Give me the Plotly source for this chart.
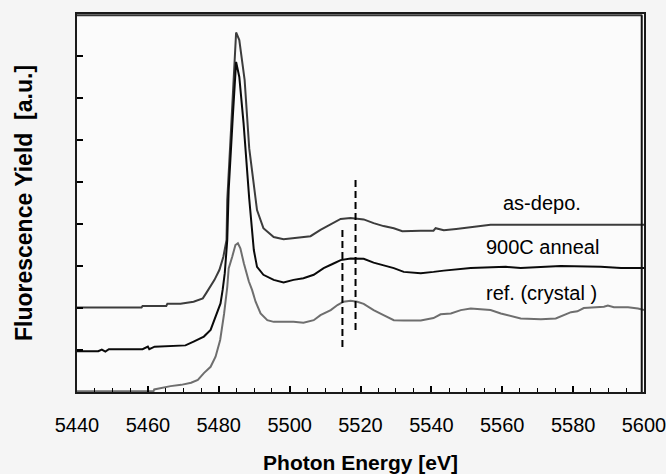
import plotly.graph_objects as go

# ---- data (photon energy in eV, fluorescence yield in a.u., offset curves) ----
asdepo_x = [5440, 5458.2, 5458.5, 5465.2, 5465.5, 5469.2, 5472.9, 5475.5, 5476.5, 5477.7,
            5478.8, 5480.2, 5481.3, 5482.2, 5482.4, 5483.5, 5484.5, 5484.9, 5485.8, 5487.3,
            5488.6, 5489.9, 5490.8, 5492.6, 5495.5, 5498.3, 5501.1, 5505.9, 5508.7, 5511.6,
            5514.4, 5517.2, 5520.9, 5523.7, 5526.5, 5529.4, 5531.8, 5537.0, 5540.6, 5541.2,
            5543.5, 5547.0, 5551.1, 5556.7, 5600]
asdepo_y = [2.01, 2.01, 2.05, 2.05, 2.10, 2.10, 2.15, 2.23, 2.36, 2.51,
            2.67, 2.91, 3.22, 3.62, 4.57, 6.30, 7.90, 8.56, 8.38, 7.43,
            5.80, 5.00, 4.33, 3.90, 3.69, 3.64, 3.67, 3.71, 3.86, 4.00,
            4.12, 4.14, 4.11, 4.02, 3.95, 3.90, 3.83, 3.84, 3.84, 3.90,
            3.85, 3.88, 3.92, 3.98, 3.98]

anneal_x = [5440, 5446.0, 5447.0, 5448.0, 5449.0, 5458.5, 5460.0, 5460.4, 5461.9, 5470.6,
            5472.9, 5475.8, 5477.7, 5478.8, 5479.5, 5480.5, 5481.1, 5481.7, 5482.4, 5482.8,
            5484.0, 5484.9, 5485.8, 5487.0, 5488.6, 5489.4, 5489.9, 5490.8, 5492.6, 5495.5,
            5498.3, 5501.1, 5503.9, 5506.8, 5509.6, 5512.4, 5514.4, 5517.2, 5520.9, 5523.7,
            5526.5, 5529.4, 5532.2, 5537.0, 5540.6, 5543.5, 5551.1, 5556.7, 5561.0, 5565.2,
            5569.5, 5576.5, 5587.8, 5593.5, 5600]
anneal_y = [0.97, 0.97, 1.01, 0.96, 1.02, 1.02, 1.08, 1.02, 1.08, 1.11,
            1.20, 1.32, 1.48, 1.71, 1.87, 2.11, 2.43, 2.83, 3.62, 4.81,
            6.60, 7.86, 7.50, 6.40, 4.60, 3.79, 3.38, 2.98, 2.79, 2.67,
            2.61, 2.67, 2.71, 2.79, 2.95, 3.06, 3.14, 3.18, 3.17, 3.08,
            3.02, 2.95, 2.86, 2.83, 2.86, 2.89, 2.95, 2.96, 2.98, 2.95,
            2.97, 3.00, 2.98, 2.95, 2.95]

ref_x = [5440, 5461.6, 5461.8, 5466.4, 5469.4, 5472.2, 5474.1, 5475.8, 5477.7, 5479.1,
         5480.4, 5481.5, 5482.4, 5482.8, 5483.8, 5484.7, 5485.4, 5486.1, 5487.1, 5488.5,
         5489.4, 5490.4, 5491.8, 5493.7, 5495.5, 5498.3, 5501.1, 5503.9, 5506.8, 5508.7,
         5511.6, 5513.5, 5515.2, 5517.2, 5519.1, 5520.9, 5523.7, 5526.5, 5529.4, 5532.2,
         5537.0, 5540.6, 5542.6, 5545.5, 5548.3, 5551.1, 5556.7, 5559.6, 5565.2, 5570.9,
         5575.1, 5579.4, 5581.2, 5583.0, 5586.4, 5588.7, 5589.8, 5591.5, 5595.5, 5598.3, 5600]
ref_y = [0.02, 0.02, 0.06, 0.14, 0.17, 0.22, 0.29, 0.45, 0.60, 0.84,
         1.24, 1.86, 2.50, 2.94, 3.22, 3.50, 3.54, 3.42, 3.06, 2.63,
         2.43, 2.15, 1.87, 1.71, 1.67, 1.67, 1.67, 1.65, 1.71, 1.83,
         1.95, 2.07, 2.15, 2.17, 2.15, 2.10, 1.95, 1.83, 1.71, 1.70,
         1.70, 1.76, 1.85, 1.87, 1.95, 1.99, 1.95, 1.87, 1.75, 1.73,
         1.75, 1.90, 1.92, 2.00, 2.02, 2.03, 2.06, 2.02, 2.02, 1.99, 1.95]

dash_x = [5514.9, 5518.6]
dash_top = [3.86, 5.05]
dash_bottom = [1.07, 1.43]

labels = ["as-depo.", "900C anneal", "ref. (crystal )"]
label_x = [5571.2, 5571.4, 5571.2]
label_y = [4.50, 3.46, 2.35]

x_ticks = [5440, 5460, 5480, 5500, 5520, 5540, 5560, 5580, 5600]

FONT = "Liberation Sans, Arial, sans-serif"

fig = go.Figure()
fig.add_trace(go.Scatter(x=asdepo_x, y=asdepo_y, mode="lines",
                         line=dict(color="#3c3c3c", width=2), name="as-depo."))
fig.add_trace(go.Scatter(x=anneal_x, y=anneal_y, mode="lines",
                         line=dict(color="#0a0a0a", width=2), name="900C anneal"))
fig.add_trace(go.Scatter(x=ref_x, y=ref_y, mode="lines",
                         line=dict(color="#6e6e6e", width=2), name="ref. (crystal )"))
for dx, yt, yb in zip(dash_x, dash_top, dash_bottom):
    fig.add_trace(go.Scatter(x=[dx, dx], y=[yt, yb], mode="lines",
                             line=dict(color="#000000", width=2, dash="7px,4px"),
                             showlegend=False))

for t, lx, ly in zip(labels, label_x, label_y):
    fig.add_annotation(x=lx, y=ly, text=t, showarrow=False,
                       font=dict(family=FONT, size=20, color="#000000"))

# top and right frame edges of the plot area
fig.add_shape(type="line", xref="paper", yref="paper", x0=0, x1=0.997, y0=0.997, y1=0.997,
              line=dict(color="#333333", width=2), layer="above")
fig.add_shape(type="line", xref="paper", yref="paper", x0=0.996, x1=0.996, y0=0, y1=0.997,
              line=dict(color="#111111", width=2), layer="above")

fig.update_layout(
    width=666, height=474,
    margin=dict(l=77, r=22, t=14, b=82, autoexpand=False),
    paper_bgcolor="#f5f5f5",
    plot_bgcolor="#fbfbfb",
    showlegend=False,
    font=dict(family=FONT, color="#000000"),
)
fig.update_xaxes(
    range=[5440, 5600], tickvals=x_ticks, ticktext=[str(v) for v in x_ticks],
    ticks="inside", ticklen=6, tickwidth=1.5, tickcolor="#000",
    minor=dict(dtick=5, ticks="inside", ticklen=4, tickwidth=1, tickcolor="#000"),
    showline=True, linecolor="#1a1a1a", linewidth=2, mirror=True,
    showgrid=False, zeroline=False,
    tickfont=dict(family=FONT, size=20),
    ticklabelstandoff=14, ticklabeloverflow="allow",
    title=dict(text="<b>Photon Energy [eV]</b>", font=dict(family=FONT, size=21), standoff=22),
)
fig.update_yaxes(
    range=[0, 9], dtick=1, showticklabels=False,
    ticks="inside", ticklen=6, tickwidth=1.5, tickcolor="#000",
    showline=True, linecolor="#1a1a1a", linewidth=2, mirror=True,
    showgrid=False, zeroline=False,
    title=dict(text="<b>Fluorescence Yield  [a.u.]</b>", font=dict(family=FONT, size=23), standoff=36),
)

fig.write_html("out.html")
